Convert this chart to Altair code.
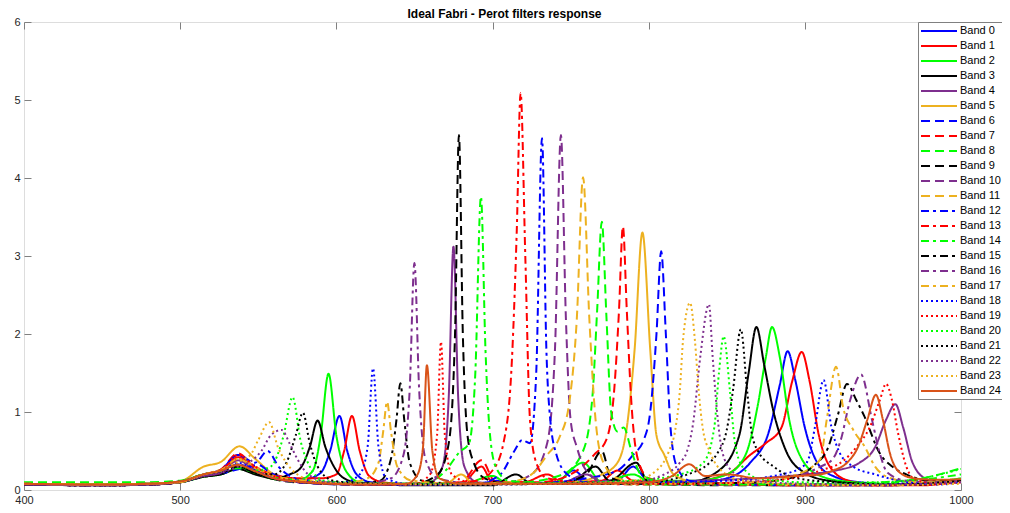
import altair as alt
import pandas as pd

# ---------------- data ----------------
chart_title = "Ideal Fabri - Perot filters response"
band_names = [f"Band {i}" for i in range(25)]
band_colors = ["#0000FF", "#FF0000", "#00FF00", "#000000", "#7E2F8E", "#EDB120"] * 4 + ["#D95319"]
SOLID, DASH, DASHDOT, DOT = [1, 0], [9, 5], [8, 4, 3, 4], [2, 3]
band_dashes = [SOLID] * 6 + [DASH] * 6 + [DASHDOT] * 6 + [DOT] * 6 + [SOLID]

band_0 = [(400,0.08),(450,0.07),(480,0.08),(500,0.11),(515,0.2),(526,0.26),(537,0.45),(546,0.3),(556,0.22),(566,0.15),(580,0.14),(590,0.22),(596,0.5),(602,0.95),(607,0.5),(613,0.2),(622,0.1),(640,0.08),(660,0.07),(690,0.08),(705,0.12),(712,0.08),(740,0.09),(752,0.25),(762,0.1),(780,0.12),(790,0.3),(800,0.12),(830,0.1),(850,0.15),(865,0.35),(877,0.75),(884,1.35),(889,1.78),(894,1.4),(900,0.8),(908,0.35),(918,0.18),(935,0.1),(960,0.07),(980,0.09),(1000,0.14)]
band_1 = [(400,0.08),(450,0.07),(480,0.08),(500,0.11),(515,0.2),(526,0.25),(537,0.42),(547,0.3),(560,0.2),(575,0.15),(590,0.15),(600,0.2),(605,0.5),(610,0.95),(615,0.5),(621,0.18),(630,0.1),(650,0.07),(680,0.08),(693,0.3),(700,0.1),(720,0.1),(735,0.2),(745,0.1),(770,0.12),(780,0.25),(790,0.12),(820,0.1),(850,0.2),(865,0.45),(875,0.6),(885,0.8),(892,1.4),(898,1.77),(903,1.4),(909,0.7),(916,0.3),(928,0.12),(950,0.06),(975,0.06),(1000,0.12)]
band_2 = [(400,0.08),(450,0.07),(480,0.08),(500,0.1),(515,0.17),(526,0.2),(537,0.27),(548,0.22),(560,0.14),(575,0.12),(585,0.25),(590,0.7),(595,1.49),(600,0.7),(606,0.25),(615,0.1),(640,0.07),(680,0.07),(700,0.18),(710,0.08),(740,0.1),(758,0.35),(770,0.1),(790,0.2),(800,0.12),(830,0.12),(850,0.2),(862,0.45),(870,1.1),(875,1.7),(879,2.09),(884,1.7),(890,0.9),(898,0.4),(910,0.18),(930,0.1),(960,0.07),(1000,0.15)]
band_3 = [(400,0.07),(450,0.06),(480,0.07),(500,0.1),(515,0.17),(526,0.2),(537,0.27),(548,0.2),(560,0.15),(570,0.2),(577,0.28),(583,0.55),(588,0.89),(593,0.55),(600,0.25),(608,0.12),(620,0.07),(660,0.06),(700,0.06),(715,0.2),(725,0.08),(750,0.1),(766,0.3),(775,0.12),(792,0.35),(800,0.1),(825,0.1),(845,0.25),(858,0.7),(864,1.5),(869,2.09),(874,1.6),(880,1.0),(888,0.5),(900,0.22),(915,0.12),(940,0.08),(970,0.07),(1000,0.12)]
band_4 = [(400,0.07),(450,0.06),(480,0.07),(500,0.1),(515,0.18),(526,0.22),(537,0.38),(548,0.25),(560,0.15),(580,0.1),(610,0.07),(640,0.07),(660,0.1),(668,0.3),(672,1.2),(675,3.12),(678,1.2),(682,0.3),(690,0.1),(710,0.08),(745,0.1),(760,0.2),(770,0.1),(800,0.1),(830,0.12),(870,0.15),(900,0.2),(920,0.25),(935,0.35),(945,0.55),(952,0.9),(958,1.1),(963,0.8),(969,0.35),(978,0.14),(988,0.1),(1000,0.13)]
band_5 = [(400,0.08),(450,0.07),(480,0.08),(500,0.11),(515,0.3),(526,0.36),(538,0.56),(548,0.4),(560,0.2),(575,0.12),(600,0.08),(640,0.07),(670,0.08),(680,0.2),(688,0.08),(720,0.08),(750,0.1),(770,0.2),(780,0.35),(786,0.8),(791,1.8),(796,3.3),(801,1.8),(805,0.7),(810,0.45),(816,0.2),(830,0.1),(860,0.08),(900,0.07),(950,0.07),(1000,0.12)]
band_6 = [(400,0.08),(450,0.07),(480,0.08),(500,0.1),(515,0.18),(528,0.22),(540,0.28),(550,0.32),(558,0.22),(570,0.12),(590,0.08),(620,0.07),(660,0.07),(700,0.08),(740,0.1),(760,0.15),(780,0.25),(790,0.45),(797,0.65),(801,1.0),(805,2.0),(808,3.06),(811,2.0),(814,0.8),(818,0.3),(826,0.12),(850,0.08),(900,0.07),(950,0.07),(1000,0.13)]
band_7 = [(400,0.08),(450,0.07),(480,0.08),(500,0.11),(515,0.2),(526,0.26),(537,0.47),(547,0.3),(560,0.18),(575,0.12),(600,0.08),(640,0.07),(680,0.1),(693,0.38),(702,0.1),(730,0.1),(750,0.2),(765,0.45),(773,0.65),(778,1.3),(781,2.3),(783.5,3.38),(786,2.3),(789,1.1),(793,0.4),(800,0.15),(820,0.08),(860,0.07),(900,0.06),(950,0.06),(1000,0.12)]
band_8 = [(400,0.1),(450,0.1),(480,0.1),(500,0.12),(515,0.2),(526,0.24),(537,0.28),(548,0.22),(560,0.16),(580,0.12),(600,0.1),(640,0.08),(680,0.08),(720,0.1),(745,0.2),(758,0.5),(764,1.2),(767,2.3),(770,3.44),(773,2.2),(776,1.0),(780,0.75),(784,0.8),(789,0.5),(795,0.2),(810,0.1),(850,0.08),(900,0.07),(950,0.1),(975,0.15),(1000,0.28)]
band_9 = [(400,0.07),(450,0.06),(480,0.07),(500,0.1),(515,0.17),(526,0.21),(537,0.3),(548,0.22),(560,0.14),(580,0.09),(620,0.07),(650,0.08),(665,0.2),(672,0.6),(676,2.0),(678.5,4.55),(681,2.0),(684,0.7),(688,0.35),(695,0.15),(710,0.08),(740,0.08),(760,0.2),(770,0.5),(776,0.15),(800,0.08),(850,0.06),(900,0.06),(950,0.06),(1000,0.12)]
band_10 = [(400,0.07),(450,0.06),(480,0.07),(500,0.1),(515,0.18),(526,0.22),(537,0.33),(548,0.24),(560,0.15),(580,0.09),(620,0.07),(680,0.08),(710,0.1),(725,0.2),(735,0.6),(740,1.8),(743.8,4.55),(747,2.2),(750,0.9),(754,0.55),(760,0.25),(770,0.12),(800,0.08),(850,0.07),(900,0.06),(950,0.06),(1000,0.12)]
band_11 = [(400,0.08),(450,0.07),(480,0.08),(500,0.1),(515,0.2),(526,0.25),(537,0.4),(548,0.28),(560,0.18),(580,0.1),(620,0.08),(680,0.08),(710,0.1),(725,0.2),(735,0.45),(743,0.68),(749,1.1),(754,2.2),(758,4.01),(762,2.2),(766,0.9),(771,0.35),(780,0.15),(800,0.09),(850,0.07),(900,0.06),(950,0.06),(1000,0.12)]
band_12 = [(400,0.08),(450,0.07),(480,0.08),(500,0.11),(515,0.2),(526,0.25),(537,0.45),(548,0.35),(556,0.5),(563,0.3),(575,0.14),(600,0.08),(640,0.07),(690,0.08),(705,0.2),(714,0.5),(719,0.64),(724,0.6),(728,1.5),(731.7,4.51),(734.5,1.8),(737,0.9),(741,0.45),(748,0.2),(760,0.1),(800,0.08),(850,0.07),(900,0.06),(950,0.06),(1000,0.12)]
band_13 = [(400,0.08),(450,0.07),(480,0.08),(500,0.11),(515,0.2),(526,0.25),(537,0.4),(548,0.3),(560,0.18),(580,0.11),(620,0.08),(660,0.08),(690,0.12),(700,0.25),(707,0.6),(712,1.5),(715.5,3.3),(718,5.09),(721,3.0),(724,0.9),(728,0.35),(735,0.15),(760,0.09),(800,0.07),(850,0.07),(900,0.06),(950,0.06),(1000,0.12)]
band_14 = [(400,0.08),(450,0.07),(480,0.08),(500,0.11),(515,0.2),(526,0.24),(537,0.3),(548,0.22),(560,0.14),(580,0.1),(620,0.08),(655,0.08),(670,0.25),(679,0.49),(685,0.6),(689,1.5),(692.6,3.76),(695.5,1.8),(698,0.8),(702,0.3),(710,0.12),(730,0.09),(770,0.08),(820,0.07),(870,0.07),(920,0.07),(960,0.1),(1000,0.2)]
band_15 = [(400,0.07),(450,0.06),(480,0.07),(500,0.1),(515,0.18),(526,0.22),(537,0.3),(548,0.22),(560,0.14),(580,0.1),(610,0.08),(628,0.12),(635,0.4),(638.5,0.9),(641,1.37),(643.5,0.9),(647,0.35),(655,0.12),(680,0.08),(740,0.08),(800,0.08),(860,0.09),(890,0.15),(905,0.3),(915,0.55),(921,0.95),(927,1.36),(933,1.15),(938,0.95),(948,0.47),(956,0.3),(965,0.2),(980,0.12),(1000,0.12)]
band_16 = [(400,0.07),(450,0.06),(480,0.07),(500,0.1),(515,0.18),(526,0.22),(537,0.33),(548,0.24),(560,0.15),(580,0.1),(615,0.08),(635,0.15),(643,0.45),(647,1.3),(650,2.91),(653,1.3),(657,0.4),(665,0.15),(690,0.08),(750,0.08),(800,0.08),(860,0.1),(895,0.18),(910,0.3),(918,0.4),(923,0.64),(929,1.15),(936,1.48),(943,0.9),(948,0.47),(953,0.22),(965,0.12),(985,0.1),(1000,0.12)]
band_17 = [(400,0.08),(450,0.07),(480,0.08),(500,0.1),(515,0.2),(526,0.25),(537,0.4),(548,0.3),(560,0.18),(580,0.12),(605,0.09),(620,0.15),(627,0.35),(630,0.75),(632.5,1.13),(635,0.75),(639,0.3),(648,0.12),(680,0.08),(750,0.08),(820,0.08),(870,0.1),(895,0.2),(905,0.3),(910,0.4),(914,0.9),(920,1.58),(924.5,1.06),(931,0.77),(938.5,0.55),(945,0.3),(955,0.15),(970,0.1),(1000,0.1)]
band_18 = [(400,0.07),(450,0.06),(480,0.07),(500,0.1),(515,0.18),(526,0.22),(537,0.35),(548,0.25),(560,0.15),(580,0.1),(605,0.1),(615,0.2),(620,0.55),(623.5,1.56),(627,0.55),(632,0.15),(645,0.08),(700,0.07),(760,0.09),(800,0.1),(850,0.12),(885,0.2),(897,0.28),(902,0.38),(906.5,0.81),(912,1.41),(917,0.81),(922.5,0.47),(931,0.3),(945,0.2),(965,0.1),(985,0.07),(1000,0.1)]
band_19 = [(400,0.07),(450,0.06),(480,0.07),(500,0.1),(515,0.18),(526,0.22),(537,0.45),(548,0.3),(560,0.18),(580,0.1),(620,0.07),(650,0.08),(660,0.2),(664.5,0.7),(667,1.9),(669.5,0.7),(674,0.2),(685,0.1),(700,0.08),(760,0.08),(820,0.08),(880,0.12),(910,0.25),(925,0.38),(933,0.55),(941.7,0.81),(948,1.15),(952,1.36),(955.8,1.15),(959.7,0.73),(965,0.3),(971,0.13),(985,0.08),(1000,0.1)]
band_20 = [(400,0.08),(450,0.07),(480,0.08),(500,0.1),(515,0.2),(526,0.25),(537,0.3),(548,0.25),(558,0.3),(566,0.68),(572,1.19),(577,0.64),(583,0.3),(592,0.12),(620,0.08),(680,0.08),(740,0.09),(790,0.12),(820,0.2),(835,0.35),(842,0.8),(845,1.5),(848,1.97),(852,1.28),(855,0.64),(860,0.3),(870,0.15),(900,0.1),(950,0.1),(975,0.15),(1000,0.27)]
band_21 = [(400,0.07),(450,0.06),(480,0.07),(500,0.1),(515,0.18),(526,0.22),(537,0.3),(548,0.22),(560,0.2),(568,0.35),(574,0.7),(578.6,0.99),(583,0.6),(588,0.3),(598,0.12),(620,0.08),(680,0.07),(740,0.08),(800,0.1),(825,0.2),(839,0.35),(844,0.47),(850,0.77),(854,1.28),(859,2.06),(863,1.28),(866,0.73),(870,0.5),(880,0.3),(895,0.15),(920,0.1),(960,0.07),(1000,0.12)]
band_22 = [(400,0.07),(450,0.06),(480,0.07),(500,0.1),(515,0.18),(526,0.22),(537,0.3),(546,0.38),(552,0.5),(558,0.7),(565,0.77),(570,0.6),(575,0.4),(582,0.2),(595,0.1),(620,0.08),(680,0.07),(740,0.08),(790,0.1),(810,0.2),(820,0.35),(824.6,0.5),(828.5,0.86),(833,1.7),(838.6,2.38),(841,1.7),(844.5,0.86),(847,0.5),(853,0.25),(865,0.12),(900,0.08),(950,0.07),(1000,0.1)]
band_23 = [(400,0.08),(450,0.07),(480,0.08),(500,0.1),(515,0.2),(526,0.26),(537,0.36),(545,0.45),(550,0.64),(557,0.87),(562.6,0.55),(567,0.38),(575,0.2),(590,0.1),(620,0.08),(680,0.07),(740,0.08),(790,0.12),(805,0.25),(813,0.5),(817,0.77),(820,1.28),(822,1.92),(826.5,2.4),(829.6,1.92),(832,1.28),(834.8,0.77),(839,0.5),(845,0.28),(860,0.12),(900,0.07),(950,0.06),(1000,0.08)]
band_24 = [(400,0.08),(450,0.07),(480,0.08),(500,0.11),(515,0.2),(526,0.25),(537,0.32),(548,0.24),(560,0.15),(580,0.1),(620,0.07),(645,0.08),(652,0.2),(655.5,0.55),(658,1.6),(661.5,0.5),(666,0.15),(680,0.08),(740,0.08),(800,0.1),(815,0.18),(826,0.33),(836,0.18),(850,0.2),(870,0.15),(895,0.18),(910,0.2),(918,0.25),(927,0.35),(934,0.55),(940,0.9),(945.5,1.22),(950,0.9),(954.5,0.47),(961,0.22),(970,0.15),(985,0.13),(1000,0.14)]

bands = [band_0, band_1, band_2, band_3, band_4, band_5, band_6, band_7, band_8, band_9,
         band_10, band_11, band_12, band_13, band_14, band_15, band_16, band_17, band_18,
         band_19, band_20, band_21, band_22, band_23, band_24]

x_ticks = [400, 500, 600, 700, 800, 900, 1000]
y_ticks = [0, 1, 2, 3, 4, 5, 6]

# ---------------- table ----------------
rows = []
for i, pts in enumerate(bands):
    for x, y in pts:
        rows.append({"band": band_names[i], "idx": i, "x": x, "y": y})
df = pd.DataFrame(rows)
tick_df = pd.DataFrame({"tx": x_ticks, "ty": y_ticks})
title_df = pd.DataFrame({"t": [chart_title]})

FONT = "Liberation Sans"
AX = "#808080"
TXT = "#262626"
TL = 7
W, H = 937, 468

xscale = alt.Scale(domain=[400, 1000], nice=False, zero=False)
yscale = alt.Scale(domain=[0, 6], nice=False)

legend = alt.Legend(
    title=None, orient="none", legendX=894, legendY=0,
    fillColor="white", strokeColor=AX, padding=3,
    labelFont=FONT, labelFontSize=11, labelColor="#000000",
    symbolType="M-1.2,0H6", symbolSize=100, symbolStrokeWidth=2,
    labelOffset=27, rowPadding=4, labelLimit=200,
)

lines = alt.Chart(df).mark_line(interpolate="monotone", strokeWidth=2, clip=True).encode(
    x=alt.X("x:Q", scale=xscale,
            axis=alt.Axis(orient="bottom", values=x_ticks, title=None, grid=False, domain=False,
                          offset=-TL, tickSize=TL, tickColor=AX, labelPadding=4, format="d",
                          labelFlush=False, labelFont=FONT, labelFontSize=11, labelColor=TXT)),
    y=alt.Y("y:Q", scale=yscale,
            axis=alt.Axis(orient="left", values=y_ticks, title=None, grid=False, domain=False,
                          offset=-TL, tickSize=TL, tickColor=AX, labelPadding=4, format="d",
                          labelFlush=False, labelFont=FONT, labelFontSize=11, labelColor=TXT)),
    color=alt.Color("band:N", scale=alt.Scale(domain=band_names, range=band_colors), legend=legend),
    strokeDash=alt.StrokeDash("band:N", scale=alt.Scale(domain=band_names, range=band_dashes), legend=legend),
    order=alt.Order("x:Q"),
)

ticks = alt.Chart(tick_df).mark_point(opacity=0, size=1).encode(
    x=alt.X("tx:Q", scale=xscale,
            axis=alt.Axis(orient="top", values=x_ticks, title=None, grid=False, domain=False,
                          labels=False, offset=-TL, tickSize=TL, tickColor=AX)),
    y=alt.Y("ty:Q", scale=yscale,
            axis=alt.Axis(orient="right", values=y_ticks, title=None, grid=False, domain=False,
                          labels=False, offset=-TL, tickSize=TL, tickColor=AX)),
)

title_layer = alt.Chart(title_df).mark_text(
    font=FONT, fontSize=12, fontWeight="bold", color="#000000", baseline="middle", align="center"
).encode(text="t:N", x=alt.value(W / 2 + 12), y=alt.value(-8))

chart = alt.layer(lines, ticks, title_layer).resolve_axis(x="independent", y="independent").properties(
    width=W, height=H,
    autosize=alt.AutoSizeParams(type="none"),
    padding={"left": 16, "top": 14, "right": 41, "bottom": 14},
).configure_view(stroke=AX, strokeWidth=1).configure(background="white")

chart.save("out.html", embed_options={"renderer": "svg", "actions": False})
